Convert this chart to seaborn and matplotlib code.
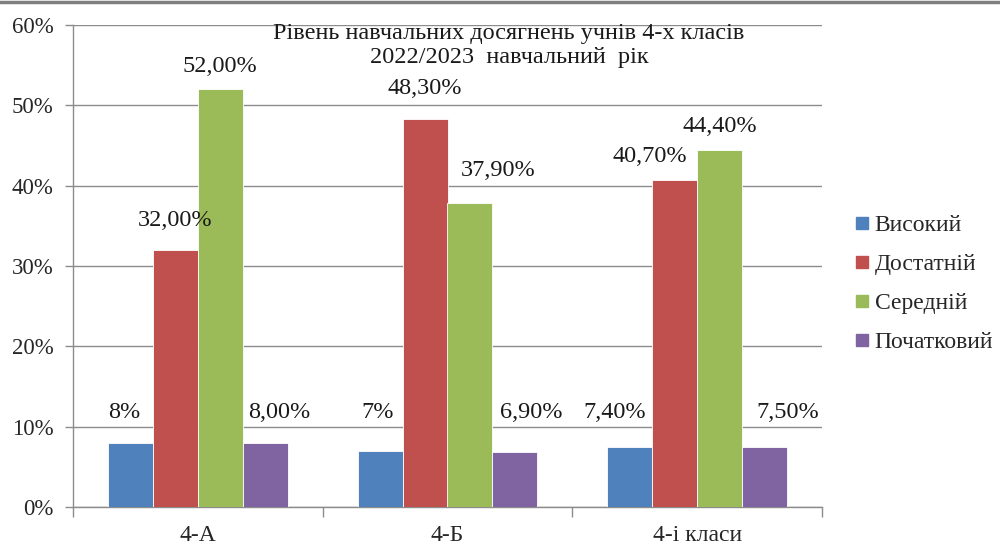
import numpy as np
import pandas as pd
import matplotlib
matplotlib.use("Agg")
import matplotlib.pyplot as plt
from matplotlib.lines import Line2D
import seaborn as sns

# data
classes = ["4-А", "4-Б", "4-і класи"]
levels = ["Високий", "Достатній", "Середній", "Початковий"]
values = {
    "Високий": [8.0, 7.0, 7.4],
    "Достатній": [32.0, 48.3, 40.7],
    "Середній": [52.0, 37.9, 44.4],
    "Початковий": [8.0, 6.9, 7.5],
}
labels = {
    "Високий": ["8%", "7%", "7,40%"],
    "Достатній": ["32,00%", "48,30%", "40,70%"],
    "Середній": ["52,00%", "37,90%", "44,40%"],
    "Початковий": ["8,00%", "6,90%", "7,50%"],
}
colors = ["#4F81BD", "#C0504D", "#9BBB59", "#8064A2"]

# label nudges in pixels (dx, dy above bar top), as placed in the original
label_dx = {
    "Високий": [-6, -2, -15],
    "Достатній": [0, 0, -25],
    "Середній": [0, 28, 0],
    "Початковий": [14, 16, 23],
}
label_dy = {
    "Високий": [30, 38, 35],
    "Достатній": [29, 31, 24],
    "Середній": [23, 32, 24],
    "Початковий": [30, 39, 34],
}

rows = []
for lev in levels:
    for c, v in zip(classes, values[lev]):
        rows.append({"class": c, "level": lev, "value": v})
df = pd.DataFrame(rows)

sns.set_theme(style="white")
plt.rcParams["font.family"] = ["Liberation Serif", "DejaVu Serif"]

fig = plt.figure(figsize=(10, 5.48), dpi=100)
ax = fig.add_axes([0.073, 0.075, 0.749, 0.879])

sns.barplot(data=df, x="class", y="value", hue="level", order=classes,
            hue_order=levels, palette=colors, saturation=1, width=0.72, gap=0,
            edgecolor="white", linewidth=0.6, ax=ax, legend=False, zorder=3)

ax.set_ylim(0, 60)
ax.set_xlim(-0.5, 2.5)
ax.set_yticks(np.arange(0, 61, 10))
ax.set_yticklabels([f"{t}%" for t in range(0, 61, 10)], fontsize=16.5)
ax.yaxis.grid(True, color="#8c8c8c", linewidth=1, zorder=0)
ax.set_axisbelow(True)
ax.set_xlabel("")
ax.set_ylabel("")
ax.set_xticks(range(len(classes)))
ax.set_xticklabels(classes, fontsize=17)
ax.set_xticks([-0.5, 0.5, 1.5, 2.5], minor=True)
ax.tick_params(axis="x", which="major", length=0, pad=13)
ax.tick_params(axis="x", which="minor", length=7, color="#8c8c8c", width=1,
               direction="out", bottom=True)
ax.tick_params(axis="y", length=6, color="#8c8c8c", width=1, direction="out",
               left=True, pad=8)
for s in ["top", "right"]:
    ax.spines[s].set_visible(False)
for s in ["left", "bottom"]:
    ax.spines[s].set_color("#8c8c8c")
    ax.spines[s].set_linewidth(1)

# data labels
for lev, cont in zip(levels, ax.containers):
    for i, bar in enumerate(cont):
        x = bar.get_x() + bar.get_width() / 2
        y = bar.get_height()
        ax.annotate(labels[lev][i], (x, y),
                    xytext=(label_dx[lev][i], label_dy[lev][i]),
                    textcoords="offset pixels", ha="center", va="center",
                    fontsize=17.5, color="#1a1a1a", zorder=5)

ax.text(0.582, 0.958, "Рівень навчальних досягнень учнів 4-х класів\n2022/2023  навчальний  рік",
        transform=ax.transAxes, ha="center", va="center", fontsize=17.5,
        linespacing=1.15, color="#1a1a1a", zorder=6)

handles = [Line2D([0], [0], marker="s", linestyle="", markersize=9,
                  markerfacecolor=c, markeredgecolor=c) for c in colors]
fig.legend(handles, levels, loc="center left", bbox_to_anchor=(0.845, 0.482),
           frameon=False, fontsize=17, handlelength=0.6, handletextpad=0.25,
           labelspacing=0.75, borderaxespad=0)

fig.add_artist(Line2D([0, 1], [0.997, 0.997], color="#7f7f7f", linewidth=2.5,
                      transform=fig.transFigure))

fig.savefig("out.png", dpi=100)
